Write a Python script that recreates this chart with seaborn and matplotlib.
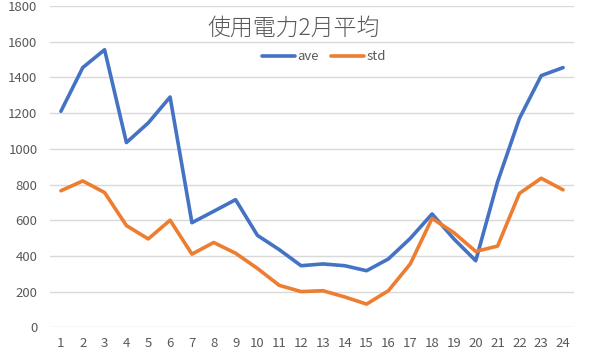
import matplotlib
matplotlib.use("Agg")
import matplotlib.pyplot as plt
import seaborn as sns
import pandas as pd

hours = list(range(1, 25))
ave = [1210, 1455, 1555, 1035, 1145, 1290, 586, 650, 715, 515, 435, 345,
       355, 345, 317, 383, 498, 635, 495, 373, 815, 1170, 1410, 1455]
std = [765, 820, 755, 570, 495, 600, 410, 475, 415, 330, 235, 200,
       205, 170, 130, 205, 355, 610, 530, 425, 455, 750, 835, 770]
title = "使用電力2月平均"
y_ticks = [0, 200, 400, 600, 800, 1000, 1200, 1400, 1600, 1800]

df = pd.DataFrame({
    "hour": hours * 2,
    "value": ave + std,
    "series": ["ave"] * len(hours) + ["std"] * len(hours),
})

sns.set_style("white")
plt.rcParams["font.family"] = ["Noto Sans CJK JP", "DejaVu Sans"]

fig = plt.figure(figsize=(5.91, 3.57), dpi=100)
ax = fig.add_axes([50 / 591, 1 - 327.3 / 357, 524 / 591, 321.3 / 357])

sns.lineplot(data=df, x="hour", y="value", hue="series",
             palette={"ave": "#4472C4", "std": "#ED7D31"},
             linewidth=2.6, ax=ax, legend=False)

ax.set_xlim(0.5, 24.5)
ax.set_ylim(0, 1800)
ax.set_yticks(y_ticks)
ax.set_xticks(hours)
ax.set_xticklabels([str(h) for h in hours])
ax.yaxis.grid(True, color="#D9D9D9", linewidth=1)
ax.set_axisbelow(True)
for s in ax.spines.values():
    s.set_visible(False)
ax.tick_params(axis="both", length=0, labelsize=9.5, labelcolor="#595959")
ax.tick_params(axis="y", pad=9)
ax.tick_params(axis="x", pad=7)
ax.set_xlabel("")
ax.set_ylabel("")

fig.text(294 / 591, 1 - 28 / 357, title, ha="center", va="center",
         fontsize=16.5, color="#595959", fontweight="light")

from matplotlib.lines import Line2D
handles = [Line2D([], [], color="#4472C4", linewidth=2.6),
           Line2D([], [], color="#ED7D31", linewidth=2.6)]
fig.legend(handles, ["ave", "std"], loc="center", ncol=2,
           bbox_to_anchor=(324 / 591, 1 - 57 / 357), frameon=False,
           fontsize=9.5, labelcolor="#595959", handlelength=2.5,
           handletextpad=0.2, columnspacing=0.9)

fig.savefig("out.png", dpi=100)
